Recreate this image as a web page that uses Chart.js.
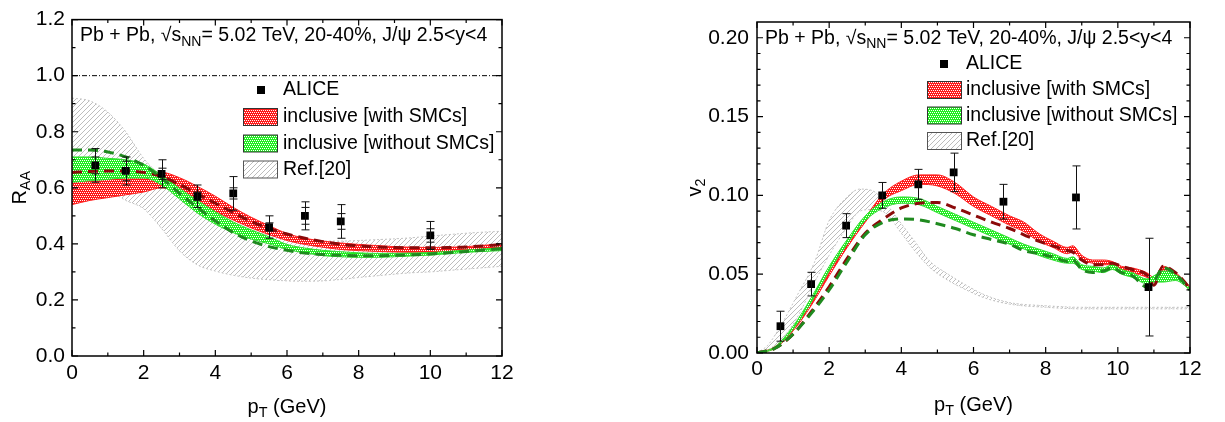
<!DOCTYPE html>
<html>
<head>
<meta charset="utf-8">
<script src="https://cdn.jsdelivr.net/npm/chart.js@4.4.0/dist/chart.umd.min.js"></script>
<style>
  html, body { margin: 0; padding: 0; background: #fff; }
  #wrap { position: relative; width: 1225px; height: 422px; }
  canvas { position: absolute; top: 0; }
</style>
</head>
<body>
<div id="wrap">
  <canvas id="raa" width="560" height="422" style="left:0"></canvas>
  <canvas id="v2" width="665" height="422" style="left:560px"></canvas>
</div>
<script>
// ---- data ----
const seriesLabels = ['ALICE', 'inclusive [with SMCs]', 'inclusive [without SMCs]', 'Ref.[20]'];

const xTicks = [0, 2, 4, 6, 8, 10, 12];
const xMinor = [1, 3, 5, 7, 9, 11];
const raaTicks = [0, 0.2, 0.4, 0.6, 0.8, 1.0, 1.2];
const raaMinor = [0.1, 0.3, 0.5, 0.7, 0.9, 1.1];
const v2Ticks = [0, 0.05, 0.10, 0.15, 0.20];
const v2Minor = [0.01, 0.02, 0.03, 0.04, 0.06, 0.07, 0.08, 0.09, 0.11, 0.12, 0.13, 0.14, 0.16, 0.17, 0.18, 0.19];

// R_AA panel
const aliceRaaPt   = [0.65, 1.5, 2.5, 3.5, 4.5, 5.5, 6.5, 7.5, 10];
const aliceRaa     = [0.68, 0.66, 0.65, 0.57, 0.58, 0.46, 0.50, 0.48, 0.43];
const aliceRaaStat = [0.06, 0.05, 0.05, 0.04, 0.06, 0.04, 0.05, 0.06, 0.05];
const aliceRaaSys  = [0.03, 0.035, 0.02, 0.015, 0.02, 0.015, 0.03, 0.028, 0.024];
const unityX = [0, 12];
const unityY = [1, 1];

const ptL = [0, 0.5, 1, 1.5, 2, 2.5, 3, 3.5, 4, 4.5, 5, 5.5, 6, 6.5, 7, 7.5, 8, 8.5, 9, 9.5, 10, 10.5, 11, 11.5, 12];
const raaRedLo   = [.54, .555, .565, .575, .585, .60, .578, .54, .515, .485, .457, .433, .412, .398, .388, .38, .376, .373, .371, .37, .37, .372, .375, .378, .382];
const raaRedHi   = [.635, .64, .645, .65, .655, .655, .636, .605, .57, .53, .495, .465, .437, .42, .41, .403, .398, .394, .39, .388, .387, .388, .39, .395, .40];
const raaGreenLo = [.62, .625, .63, .635, .635, .61, .56, .51, .47, .44, .417, .40, .38, .368, .358, .354, .352, .352, .354, .357, .36, .365, .37, .373, .376];
const raaGreenHi = [.71, .71, .705, .70, .685, .645, .598, .555, .515, .478, .45, .425, .398, .385, .377, .372, .368, .366, .366, .367, .369, .373, .378, .382, .386];
const raaRedDash   = [.655, .658, .66, .66, .655, .64, .612, .578, .545, .512, .48, .455, .435, .42, .408, .398, .393, .389, .387, .386, .386, .387, .389, .393, .398];
const raaGreenDash = [.735, .735, .728, .71, .68, .635, .58, .53, .482, .44, .41, .39, .377, .367, .362, .359, .358, .358, .359, .361, .364, .368, .373, .378, .383];
const raaRefLo = [.60, .60, .59, .555, .525, .455, .375, .325, .303, .288, .278, .272, .268, .267, .268, .273, .28, .286, .292, .297, .30, .305, .31, .315, .32];
const raaRefHi = [.92, .91, .87, .80, .705, .64, .585, .54, .50, .47, .45, .43, .42, .415, .41, .41, .412, .415, .418, .422, .428, .433, .438, .442, .445];

// v2 panel
const aliceV2Pt  = [0.65, 1.5, 2.47, 3.47, 4.47, 5.45, 6.83, 8.84, 10.85];
const aliceV2    = [0.017, 0.0437, 0.0808, 0.100, 0.107, 0.1146, 0.096, 0.0987, 0.0418];
const aliceV2Err = [0.0095, 0.0075, 0.0076, 0.0082, 0.0095, 0.0122, 0.011, 0.020, 0.031];

const ptR = [0, 0.5, 1, 1.5, 2, 2.5, 3, 3.5, 4, 4.5, 5, 5.5, 6, 6.5, 7, 7.4, 7.8, 8.2, 8.6, 8.75, 9, 9.3, 9.6, 9.85, 10.1, 10.4, 10.8, 11, 11.25, 11.6, 12];
const v2RedLo   = [0, .003, .014, .03, .049, .067, .083, .097, .103, .107, .106, .101, .093, .087, .081, .077, .071, .067, .063, .064, .059, .057, .056, .056, .053, .051, .048, .045, .05, .048, .040];
const v2RedHi   = [0, .004, .016, .032, .051, .07, .086, .101, .109, .113, .113, .108, .099, .093, .087, .083, .076, .071, .067, .068, .062, .059, .059, .058, .055, .054, .051, .048, .055, .051, .042];
const v2GreenLo = [0, .003, .015, .032, .052, .069, .084, .092, .095, .094, .089, .084, .079, .074, .069, .066, .062, .059, .057, .057, .053, .052, .051, .053, .05, .048, .044, .045, .045, .046, .040];
const v2GreenHi = [0, .004, .017, .035, .055, .072, .087, .096, .099, .098, .093, .088, .083, .078, .073, .069, .066, .063, .06, .061, .056, .055, .054, .056, .053, .051, .047, .049, .052, .05, .041];
const v2RedDash   = [0, .003, .012, .026, .042, .06, .076, .085, .092, .095, .0955, .092, .0875, .083, .079, .075, .071, .068, .065, .064, .059, .056, .056, .057, .055, .053, .0496, .043, .055, .051, .041];
const v2GreenDash = [0, .003, .012, .025, .04, .058, .075, .083, .085, .0845, .082, .079, .075, .072, .069, .065, .063, .061, .058, .059, .053, .051, .052, .054, .051, .049, .042, .045, .054, .05, .040];

const ptRef   = [0, 0.3, 0.65, 1.1, 1.6, 2, 2.5, 2.85, 3.2, 3.6, 4, 4.4, 4.8, 5.3, 5.8, 6.3, 7, 8, 9, 10, 11, 12];
const v2RefHi = [0, .005, .017, .036, .058, .084, .099, .104, .103, .094, .082, .07, .058, .05, .043, .037, .032, .030, .029, .029, .029, .029];
const v2RefLo = [0, .002, .008, .022, .045, .062, .08, .09, .091, .088, .076, .064, .054, .046, .04, .035, .031, .029, .028, .028, .028, .028];

// ---- helpers ----
const FONT = "'Liberation Sans', Arial, sans-serif";
const xy = (xs, ys) => xs.map((x, i) => ({ x: x, y: ys[i] }));

function dotPattern(ctx, bg, dot) {
    const c = document.createElement('canvas');
    c.width = 4; c.height = 4;
    const g = c.getContext('2d');
    g.fillStyle = bg;
    g.fillRect(0, 0, 4, 4);
    g.fillStyle = dot;
    [[0, 0], [2, 0], [1, 2], [3, 2]].forEach(p => g.fillRect(p[0], p[1], 1, 1));
    return ctx.createPattern(c, 'repeat');
}

function hatchPattern(ctx) {
    const c = document.createElement('canvas');
    c.width = 5; c.height = 5;
    const g = c.getContext('2d');
    g.strokeStyle = '#bdbdbd';
    g.lineWidth = 1;
    g.beginPath();
    g.moveTo(0, 5); g.lineTo(5, 0);
    g.moveTo(-1, 1); g.lineTo(1, -1);
    g.moveTo(4, 6); g.lineTo(6, 4);
    g.stroke();
    return ctx.createPattern(c, 'repeat');
}

// draws text with subscript parts
function richText(ctx, x, y, parts, size) {
    let cx = x;
    parts.forEach(p => {
        const s = p.sub ? size * 0.72 : size;
        ctx.font = s + 'px ' + FONT;
        ctx.fillText(p.t, cx, p.sub ? y + size * 0.3 : y);
        cx += ctx.measureText(p.t).width;
    });
    return cx - x;
}
function richWidth(ctx, parts, size) {
    let w = 0;
    parts.forEach(p => {
        ctx.font = (p.sub ? size * 0.72 : size) + 'px ' + FONT;
        w += ctx.measureText(p.t).width;
    });
    return w;
}

// frame with inward ticks on all four sides
const framePlugin = {
    id: 'frame',
    afterDraw(chart, args, opts) {
        const ctx = chart.ctx, a = chart.chartArea;
        const xs = chart.scales.x, ys = chart.scales.y;
        ctx.save();
        ctx.strokeStyle = '#000';
        ctx.lineWidth = 1.5;
        ctx.strokeRect(a.left, a.top, a.right - a.left, a.bottom - a.top);
        ctx.lineWidth = 1.2;
        ctx.beginPath();
        const tx = (vals, len) => vals.forEach(v => {
            const px = xs.getPixelForValue(v);
            ctx.moveTo(px, a.bottom); ctx.lineTo(px, a.bottom - len);
            ctx.moveTo(px, a.top); ctx.lineTo(px, a.top + len);
        });
        const ty = (vals, len) => vals.forEach(v => {
            const py = ys.getPixelForValue(v);
            ctx.moveTo(a.left, py); ctx.lineTo(a.left + len, py);
            ctx.moveTo(a.right, py); ctx.lineTo(a.right - len, py);
        });
        tx(opts.xMajor, 6); tx(opts.xMinor, 3.5);
        ty(opts.yMajor, 6); ty(opts.yMinor, 3.5);
        ctx.stroke();
        ctx.restore();
    }
};

// error bars for the ALICE points
const errorBarPlugin = {
    id: 'errorBars',
    afterDatasetsDraw(chart) {
        const ctx = chart.ctx, ys = chart.scales.y;
        chart.data.datasets.forEach((ds, i) => {
            if (!ds.errStat) return;
            const meta = chart.getDatasetMeta(i);
            ctx.save();
            ctx.strokeStyle = '#111';
            ctx.lineWidth = 1;
            ctx.beginPath();
            meta.data.forEach((pt, j) => {
                const v = ds.data[j].y;
                const x = Math.round(pt.x) + 0.5;
                const t = ys.getPixelForValue(v + ds.errStat[j]);
                const b = ys.getPixelForValue(v - ds.errStat[j]);
                ctx.moveTo(x, t); ctx.lineTo(x, b);
                ctx.moveTo(x - 4, t); ctx.lineTo(x + 4, t);
                ctx.moveTo(x - 4, b); ctx.lineTo(x + 4, b);
                if (ds.errSys) {
                    const t2 = ys.getPixelForValue(v + ds.errSys[j]);
                    const b2 = ys.getPixelForValue(v - ds.errSys[j]);
                    ctx.moveTo(x - 4, t2); ctx.lineTo(x + 4, t2);
                    ctx.moveTo(x - 4, b2); ctx.lineTo(x + 4, b2);
                }
            });
            ctx.stroke();
            ctx.restore();
        });
    }
};

// titles, axis labels and legend
const textPlugin = {
    id: 'texts',
    afterDraw(chart, args, o) {
        const ctx = chart.ctx, a = chart.chartArea;
        ctx.save();
        ctx.fillStyle = '#000';
        ctx.textBaseline = 'middle';
        ctx.textAlign = 'left';
        // header inside the frame
        richText(ctx, a.left + 8, o.titleY, [
            { t: 'Pb + Pb, \u221As' }, { t: 'NN', sub: true },
            { t: '= 5.02 TeV, 20-40%, J/\u03C8 2.5<y<4' }
        ], 19.5);
        // x title
        const xp = [{ t: 'p' }, { t: 'T', sub: true }, { t: ' (GeV)' }];
        const xw = richWidth(ctx, xp, 20);
        richText(ctx, (a.left + a.right) / 2 - xw / 2, o.xTitleY, xp, 20);
        // y title (rotated)
        ctx.save();
        ctx.translate(o.yTitleX, (a.top + a.bottom) / 2);
        ctx.rotate(-Math.PI / 2);
        const yw = richWidth(ctx, o.yTitle, 20);
        richText(ctx, -yw / 2, 0, o.yTitle, 20);
        ctx.restore();
        // legend
        const L = o.legend;
        ctx.font = '19.5px ' + FONT;
        ctx.fillRect(L.markX - 4, L.rows[0] - 4, 8, 8);
        ctx.fillText(seriesLabels[0], L.textX, L.rows[0]);
        [o.redFill, o.greenFill, o.grayFill].forEach((f, k) => {
            const cy = L.rows[k + 1];
            ctx.fillStyle = f;
            ctx.fillRect(L.boxX, cy - 8.5, 34, 17);
            ctx.strokeStyle = k === 2 ? '#555' : '#333';
            ctx.lineWidth = 1;
            ctx.strokeRect(L.boxX + 0.5, cy - 8.5, 34, 17);
            ctx.fillStyle = '#000';
            ctx.fillText(seriesLabels[k + 1], L.textX, cy);
        });
        ctx.restore();
    }
};

function bandSets(xs, lo, hi, fillStyle, edge, order, dash) {
    const base = {
        pointRadius: 0, borderWidth: 1, borderColor: edge,
        borderDash: dash || [], cubicInterpolationMode: 'monotone', order: order
    };
    return [
        Object.assign({}, base, { data: xy(xs, lo), fill: false }),
        Object.assign({}, base, { data: xy(xs, hi), fill: '-1', backgroundColor: fillStyle })
    ];
}
function dashSet(xs, ys, color, order) {
    return {
        data: xy(xs, ys), pointRadius: 0, borderWidth: 3, borderColor: color,
        borderDash: [10, 6], fill: false, cubicInterpolationMode: 'monotone', order: order
    };
}

function makeChart(id, p) {
    const ctx = document.getElementById(id).getContext('2d');
    const red = dotPattern(ctx, '#ff1a1a', '#ffffff');
    const green = dotPattern(ctx, '#22ee22', '#ffffff');
    const gray = hatchPattern(ctx);
    const points = {
        data: xy(p.ptsX, p.ptsY), showLine: false, pointStyle: 'rect', pointRadius: 5.5,
        pointBackgroundColor: '#000', pointBorderColor: '#000', borderWidth: 0,
        errStat: p.errStat, errSys: p.errSys, order: 0
    };
    const datasets = [points].concat(
        p.extra || [],
        [dashSet(p.xs, p.greenDash, '#1f8a1f', 2), dashSet(p.xs, p.redDash, '#8b0a0a', 3)],
        bandSets(p.xs, p.greenLo, p.greenHi, green, '#33dd33', 4),
        bandSets(p.xs, p.redLo, p.redHi, red, '#ff2020', 6),
        bandSets(p.refX, p.refLo, p.refHi, gray, '#c4c4c4', 8, [2, 2])
    );
    return new Chart(ctx, {
        type: 'line',
        data: { datasets: datasets },
        plugins: [errorBarPlugin, framePlugin, textPlugin],
        options: {
            responsive: false,
            devicePixelRatio: 1,
            animation: false,
            events: [],
            layout: { padding: p.padding },
            scales: {
                x: {
                    type: 'linear', min: 0, max: 12,
                    afterBuildTicks: s => { s.ticks = xTicks.map(v => ({ value: v })); },
                    afterFit: s => { s.height = p.xAxisH; },
                    grid: { display: false, drawTicks: false },
                    border: { display: false },
                    ticks: { color: '#000', padding: p.xPad, maxRotation: 0, autoSkip: false,
                             font: { family: FONT, size: 21 } }
                },
                y: {
                    min: p.yMin, max: p.yMax,
                    afterBuildTicks: s => { s.ticks = p.yTicks.map(v => ({ value: v })); },
                    afterFit: s => { s.width = p.yAxisW; },
                    grid: { display: false, drawTicks: false },
                    border: { display: false },
                    ticks: { color: '#000', padding: p.yPad, autoSkip: false,
                             callback: v => v.toFixed(p.dec),
                             font: { family: FONT, size: 21 } }
                }
            },
            plugins: {
                legend: { display: false },
                tooltip: { enabled: false },
                frame: { xMajor: xTicks, xMinor: xMinor, yMajor: p.yTicks, yMinor: p.yMinor },
                texts: {
                    titleY: p.titleY, xTitleY: p.xTitleY, yTitleX: p.yTitleX, yTitle: p.yTitle,
                    legend: p.legend, redFill: red, greenFill: green, grayFill: gray
                }
            }
        }
    });
}

makeChart('raa', {
    ptsX: aliceRaaPt, ptsY: aliceRaa, errStat: aliceRaaStat, errSys: aliceRaaSys,
    extra: [{
        data: xy(unityX, unityY), pointRadius: 0, borderWidth: 1, borderColor: '#000',
        borderDash: [5, 2, 1, 2], fill: false, order: 1
    }],
    xs: ptL, redLo: raaRedLo, redHi: raaRedHi, greenLo: raaGreenLo, greenHi: raaGreenHi,
    redDash: raaRedDash, greenDash: raaGreenDash, refX: ptL, refLo: raaRefLo, refHi: raaRefHi,
    yMin: 0, yMax: 1.2, yTicks: raaTicks, yMinor: raaMinor, dec: 1,
    padding: { left: 0, top: 18, right: 58, bottom: 0 },
    xAxisH: 66, yAxisW: 72, xPad: 5, yPad: 7,
    titleY: 36, xTitleY: 407, yTitleX: 20,
    yTitle: [{ t: 'R' }, { t: 'AA', sub: true }],
    legend: { markX: 261, boxX: 243, textX: 283, rows: [90, 117, 143.5, 169.5] }
});

makeChart('v2', {
    ptsX: aliceV2Pt, ptsY: aliceV2, errStat: aliceV2Err,
    xs: ptR, redLo: v2RedLo, redHi: v2RedHi, greenLo: v2GreenLo, greenHi: v2GreenHi,
    redDash: v2RedDash, greenDash: v2GreenDash, refX: ptRef, refLo: v2RefLo, refHi: v2RefHi,
    yMin: 0, yMax: 0.21, yTicks: v2Ticks, yMinor: v2Minor, dec: 2,
    padding: { left: 0, top: 22, right: 35, bottom: 0 },
    xAxisH: 69, yAxisW: 197, xPad: 4, yPad: 8,
    titleY: 38.5, xTitleY: 405, yTitleX: 135,
    yTitle: [{ t: 'v' }, { t: '2', sub: true }],
    legend: { markX: 384, boxX: 367, textX: 406, rows: [64, 90, 115.5, 141] }
});
</script>
</body>
</html>
